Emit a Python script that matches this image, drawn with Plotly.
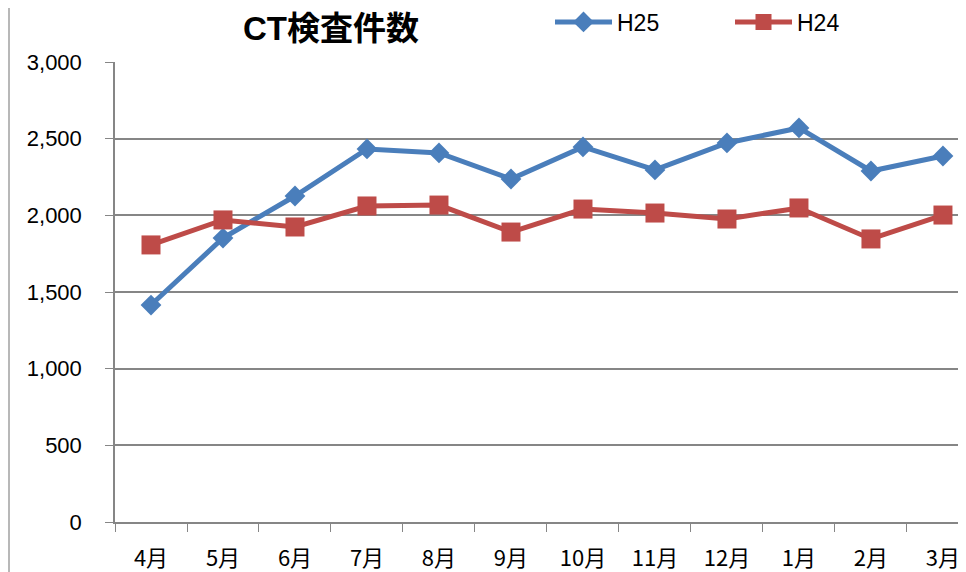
import plotly.graph_objects as go

months = ["4月", "5月", "6月", "7月", "8月", "9月", "10月", "11月", "12月", "1月", "2月", "3月"]
h25 = [1415, 1852, 2126, 2433, 2407, 2237, 2446, 2296, 2472, 2570, 2289, 2387]
h24 = [1807, 1970, 1924, 2061, 2067, 1891, 2041, 2015, 1976, 2048, 1846, 2002]
y_ticks = [0, 500, 1000, 1500, 2000, 2500, 3000]

# page is offset by the body margin (8px), so the figure is 958x564
W, H = 958, 564
L, T, B = 107, 54, 50

fig = go.Figure()
fig.add_trace(go.Scatter(
    x=months, y=h25, name="H25", mode="lines+markers",
    line=dict(color="#4A7EBB", width=5),
    marker=dict(symbol="diamond", size=16, color="#4A7EBB"),
))
fig.add_trace(go.Scatter(
    x=months, y=h24, name="H24", mode="lines+markers",
    line=dict(color="#BE4B48", width=5),
    marker=dict(symbol="square", size=19, color="#BE4B48"),
))

fig.update_layout(
    width=W, height=H,
    paper_bgcolor="white", plot_bgcolor="white",
    margin=dict(l=L, r=0, t=T, b=B, autoexpand=False),
    font=dict(family="Liberation Sans, Arial, sans-serif", color="black"),
    title=dict(text="<b>CT検査件数</b>", x=323 / W, xanchor="center", y=1 - 20 / H, yanchor="middle",
               font=dict(size=33, family="Liberation Sans, Noto Sans CJK JP, sans-serif", color="black")),
    legend=dict(orientation="h", xref="container", yref="container",
                x=542 / W, xanchor="left", y=1 - 14 / H, yanchor="middle",
                font=dict(size=23, family="Liberation Sans, sans-serif"),
                itemwidth=57, bgcolor="rgba(0,0,0,0)", entrywidth=108),
    showlegend=True,
)
fig.update_xaxes(
    type="category", range=[-0.5, 11.32], tickson="boundaries",
    ticks="outside", ticklen=8, tickcolor="#868686",
    showline=True, linecolor="#868686", linewidth=1.5, showgrid=False,
    tickfont=dict(size=22, family="Noto Sans CJK JP, sans-serif"),
    ticklabelstandoff=16,
)
fig.update_yaxes(
    range=[0, 3000], tickvals=y_ticks, tickformat=",",
    ticks="outside", ticklen=8, tickcolor="#868686",
    showline=True, linecolor="#868686", linewidth=1.5,
    showgrid=True, gridcolor="#868686", gridwidth=1.5, zeroline=False,
    tickfont=dict(size=22, family="Liberation Sans, sans-serif"),
    ticklabelstandoff=19,
)
fig.add_shape(type="line", xref="paper", yref="paper",
              x0=-(L - 1) / (W - L), x1=-(L - 1) / (W - L), y0=-B / (H - T - B), y1=1 + T / (H - T - B),
              line=dict(color="#A0A0A0", width=1.5))

fig.write_html("out.html")
